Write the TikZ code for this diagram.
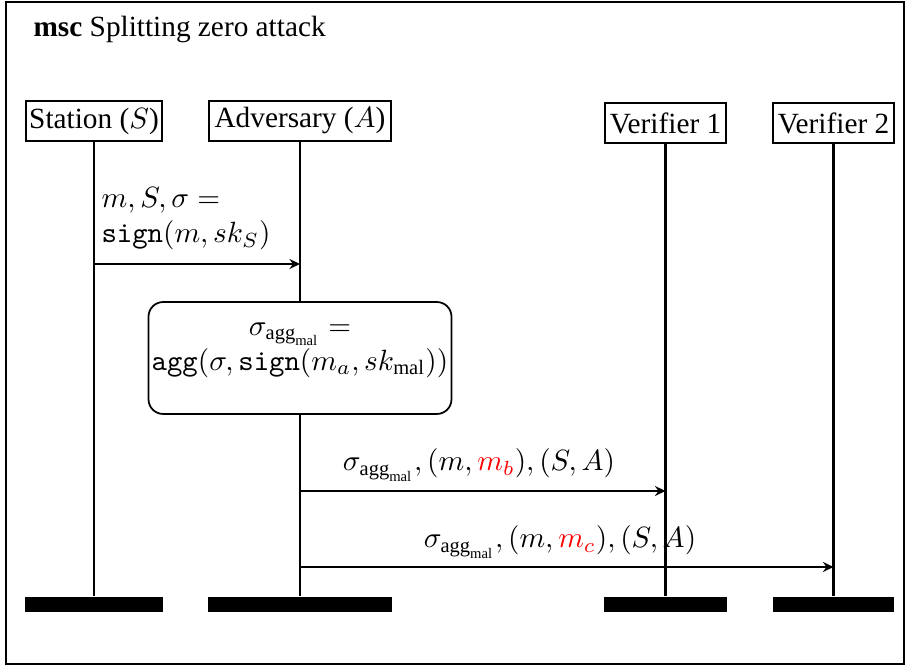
\documentclass[tikz,border=0pt]{standalone}
\usepackage{fontspec}
\setmainfont{Liberation Serif}
\usetikzlibrary{arrows.meta}
\begin{document}
\begin{tikzpicture}[x=0.3413pt,y=-0.3413pt,
  inst/.style={draw,line width=0.6pt,inner sep=0pt,minimum height=13.65pt,font=\fontsize{10}{12}\selectfont},
  endbar/.style={fill=black,inner sep=0pt,minimum height=5.1pt},
  life/.style={line width=0.9pt},
  msg/.style={line width=0.6pt,-{Stealth[length=3.6pt,width=3.4pt,inset=1.2pt]}},
  actbox/.style={draw,fill=white,line width=0.6pt,rounded corners=5pt,minimum width=103.4pt,minimum height=38.2pt,inner sep=0pt},
  lbl/.style={inner sep=0pt,font=\fontsize{10}{12}\selectfont}]
\useasboundingbox (0,0) rectangle (905,666);
\draw[line width=0.6pt] (6,2) rectangle (904,664);
\node[lbl,anchor=base west] (title) at (33,37) {\textbf{msc} Splitting zero attack};
% instances
\node[inst,minimum width=46.4pt] (st) at (94,121) {Station ($S$)};
\node[inst,minimum width=62.1pt] (adv) at (300,121) {Adversary ($A$)};
\node[inst,minimum width=41.3pt] (v1) at (665.5,123) {Verifier 1};
\node[inst,minimum width=41.3pt] (v2) at (833.5,123) {Verifier 2};
% end bars
\node[endbar,minimum width=47.4pt] (ste) at (94,604.5) {};
\node[endbar,minimum width=62.5pt] (adve) at (300,604.5) {};
\node[endbar,minimum width=42pt] (v1e) at (665.5,604.5) {};
\node[endbar,minimum width=41.6pt] (v2e) at (833.5,604.5) {};
% lifelines
\draw[life] (st.south) -- (ste.north);
\draw[life] (adv.south) -- (adve.north);
\draw[life] (v1.south) -- (v1e.north);
\draw[life] (v2.south) -- (v2e.north);
% message 1
\coordinate (y1) at (0,264);
\draw[msg] (st |- y1) -- (adv |- y1);
\node[lbl,anchor=base west,align=left] (l1) at (101,243) {$m, S, \sigma =$\\$\mathtt{sign}(m, sk_S)$};
% action
\node[actbox] (act) at (300,358) {};
\node[lbl,align=center] (actl) at (300,350) {$\sigma_{\mathrm{agg}_{\mathrm{mal}}} =$\\$\mathtt{agg}(\sigma, \mathtt{sign}(m_a, sk_{\mathrm{mal}}))$};
% message 2
\coordinate (y2) at (0,491);
\draw[msg] (adv |- y2) -- (v1 |- y2);
\node[lbl,anchor=base] (l2) at (479,471) {$\sigma_{\mathrm{agg}_{\mathrm{mal}}}, (m, \textcolor{red}{m_b}), (S, A)$};
% message 3
\coordinate (y3) at (0,567);
\draw[msg] (adv |- y3) -- (v2 |- y3);
\node[lbl,anchor=base] (l3) at (560,548) {$\sigma_{\mathrm{agg}_{\mathrm{mal}}}, (m, \textcolor{red}{m_c}), (S, A)$};
\end{tikzpicture}
\end{document}
